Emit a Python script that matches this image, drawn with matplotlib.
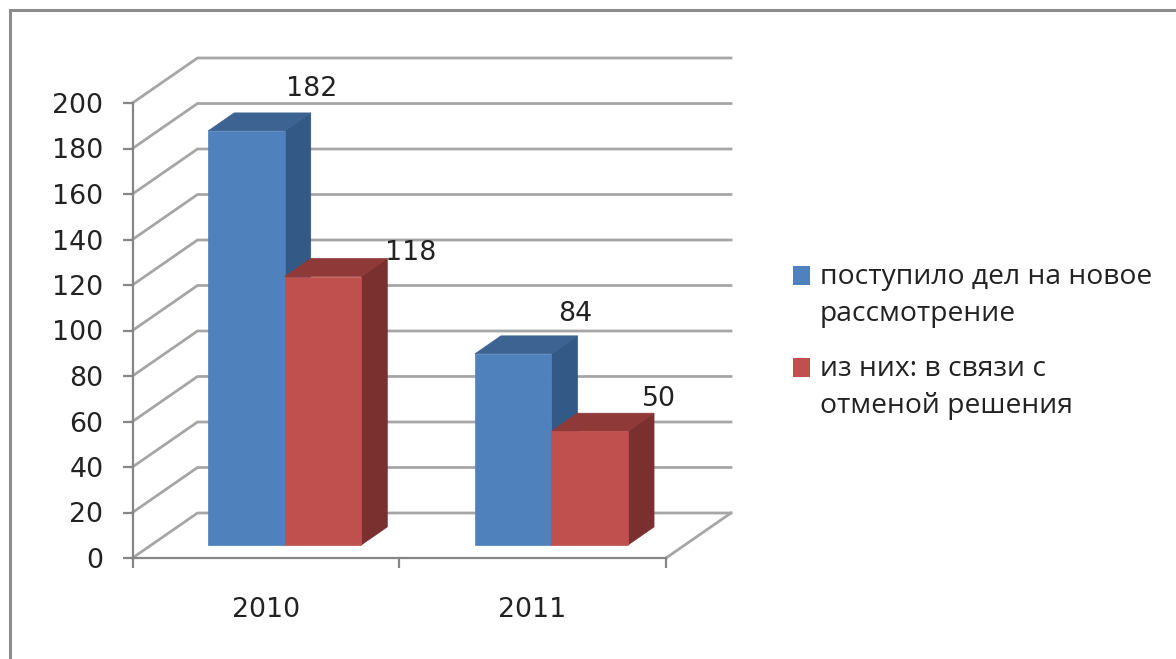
import matplotlib.pyplot as plt

plt.rcParams['font.family'] = ['DejaVu Sans']

years = ['2010', '2011']
series_names = ['поступило дел на новое\nрассмотрение', 'из них: в связи с\nотменой решения']
series_colors = ['#4f81bd', '#c0504d']
new_cases = [182, 84]
cancelled = [118, 50]
y_ticks = list(range(0, 201, 20))

W, H = 1176, 659
fig = plt.figure(figsize=(W / 100, H / 100), dpi=100)

# Front plane of the fake 3D box, in pixels of the picture
ax = fig.add_axes([132.5 / W, (H - 558) / H, 533.5 / W, 455 / H])
ax.set_xlim(0, 2)
ax.set_ylim(0, 200)

px_x = 2 / 533.5
px_y = 200 / 455
depth_x = 65 * px_x
depth_y = 45 * px_y
grid_col = '#a6a6a6'
axis_col = '#868686'
text_col = '#222222'
num_size = 19.3


def proj(x, y, d):
    return x + d * depth_x, y + d * depth_y


# ── Walls ──
for v in y_ticks:
    x0, y0 = proj(0, v, 0)
    x1, y1 = proj(0, v, 1)
    x2, y2 = proj(2, v, 1)
    ax.plot([x0, x1, x2], [y0, y1, y2], color=grid_col, lw=2.0, clip_on=False,
            solid_joinstyle='miter', zorder=1)
x1, y1 = proj(2, 0, 1)
x2, y2 = proj(2, 0, 0)
ax.plot([x1, x2], [y1, y2], color=grid_col, lw=2.0, clip_on=False, zorder=1)


# ── Bars ──
def bar3d(x_left, width, value, front, top, side):
    d0, d1 = 0.29, 0.69
    xa, ya = proj(x_left, 0, d0)
    xb = xa + width
    ytop = ya + value
    dx = (d1 - d0) * depth_x
    dy = (d1 - d0) * depth_y
    ax.fill([xb, xb + dx, xb + dx, xb], [ya, ya + dy, ytop + dy, ytop],
            color=side, lw=0.5, clip_on=False, zorder=3)
    ax.fill([xa, xb, xb + dx, xa + dx], [ytop, ytop, ytop + dy, ytop + dy],
            color=top, lw=0.5, clip_on=False, zorder=3)
    ax.fill([xa, xb, xb, xa], [ya, ya, ytop, ytop], color=front, lw=0.5, clip_on=False, zorder=3)
    return xa, ya, xb


bar_w = 0.287
label_dx = [[65, 88], [62, 69]]
label_dy = [[42, 24], [40, 32]]
for i in range(len(years)):
    xa, ya, xb = bar3d(i + 0.5 - bar_w, bar_w, new_cases[i], series_colors[0], '#3d6393', '#335a86')
    ax.text((xa + xb) / 2 + label_dx[i][0] * px_x, ya + new_cases[i] + label_dy[i][0] * px_y,
            str(new_cases[i]), ha='center', va='center', fontsize=num_size, color=text_col, zorder=5)
    xa, ya, xb = bar3d(i + 0.5, bar_w, cancelled[i], series_colors[1], '#8f3a38', '#7a302e')
    ax.text((xa + xb) / 2 + label_dx[i][1] * px_x, ya + cancelled[i] + label_dy[i][1] * px_y,
            str(cancelled[i]), ha='center', va='center', fontsize=num_size, color=text_col, zorder=5)

# ── Axes ──
for s in ['top', 'right']:
    ax.spines[s].set_visible(False)
for s in ['left', 'bottom']:
    ax.spines[s].set_color(axis_col)
    ax.spines[s].set_linewidth(1.6)
ax.patch.set_alpha(0)
ax.set_yticks(y_ticks)
ax.set_xticks([0, 1, 2])
ax.set_xticklabels([])
ax.tick_params(axis='both', length=7.5, width=1.6, color=axis_col)
ax.tick_params(axis='y', labelsize=num_size, labelcolor=text_col, pad=13.5)
for i, year in enumerate(years):
    ax.text(i + 0.5, -52 * px_y, year, ha='center', va='center', fontsize=num_size, color=text_col)

# ── Legend ──
legend_tops = [266, 358]
for name, col, top in zip(series_names, series_colors, legend_tops):
    fig.patches.append(plt.Rectangle((793 / W, 1 - (top + 19) / H), 17 / W, 19 / H, color=col,
                                     lw=0, transform=fig.transFigure, figure=fig))
    fig.text(820 / W, 1 - (top - 3) / H, name, ha='left', va='top', fontsize=20.3, color=text_col,
             family='Open Sans', linespacing=1.44)

# ── Outer picture frame ──
fig.add_artist(plt.Line2D([10 / W, 10 / W, 1], [0, 1 - 10 / H, 1 - 10 / H], color='#8c8c8c', lw=2.2,
                          solid_joinstyle='miter', transform=fig.transFigure))

fig.savefig('out.png', dpi=100)
